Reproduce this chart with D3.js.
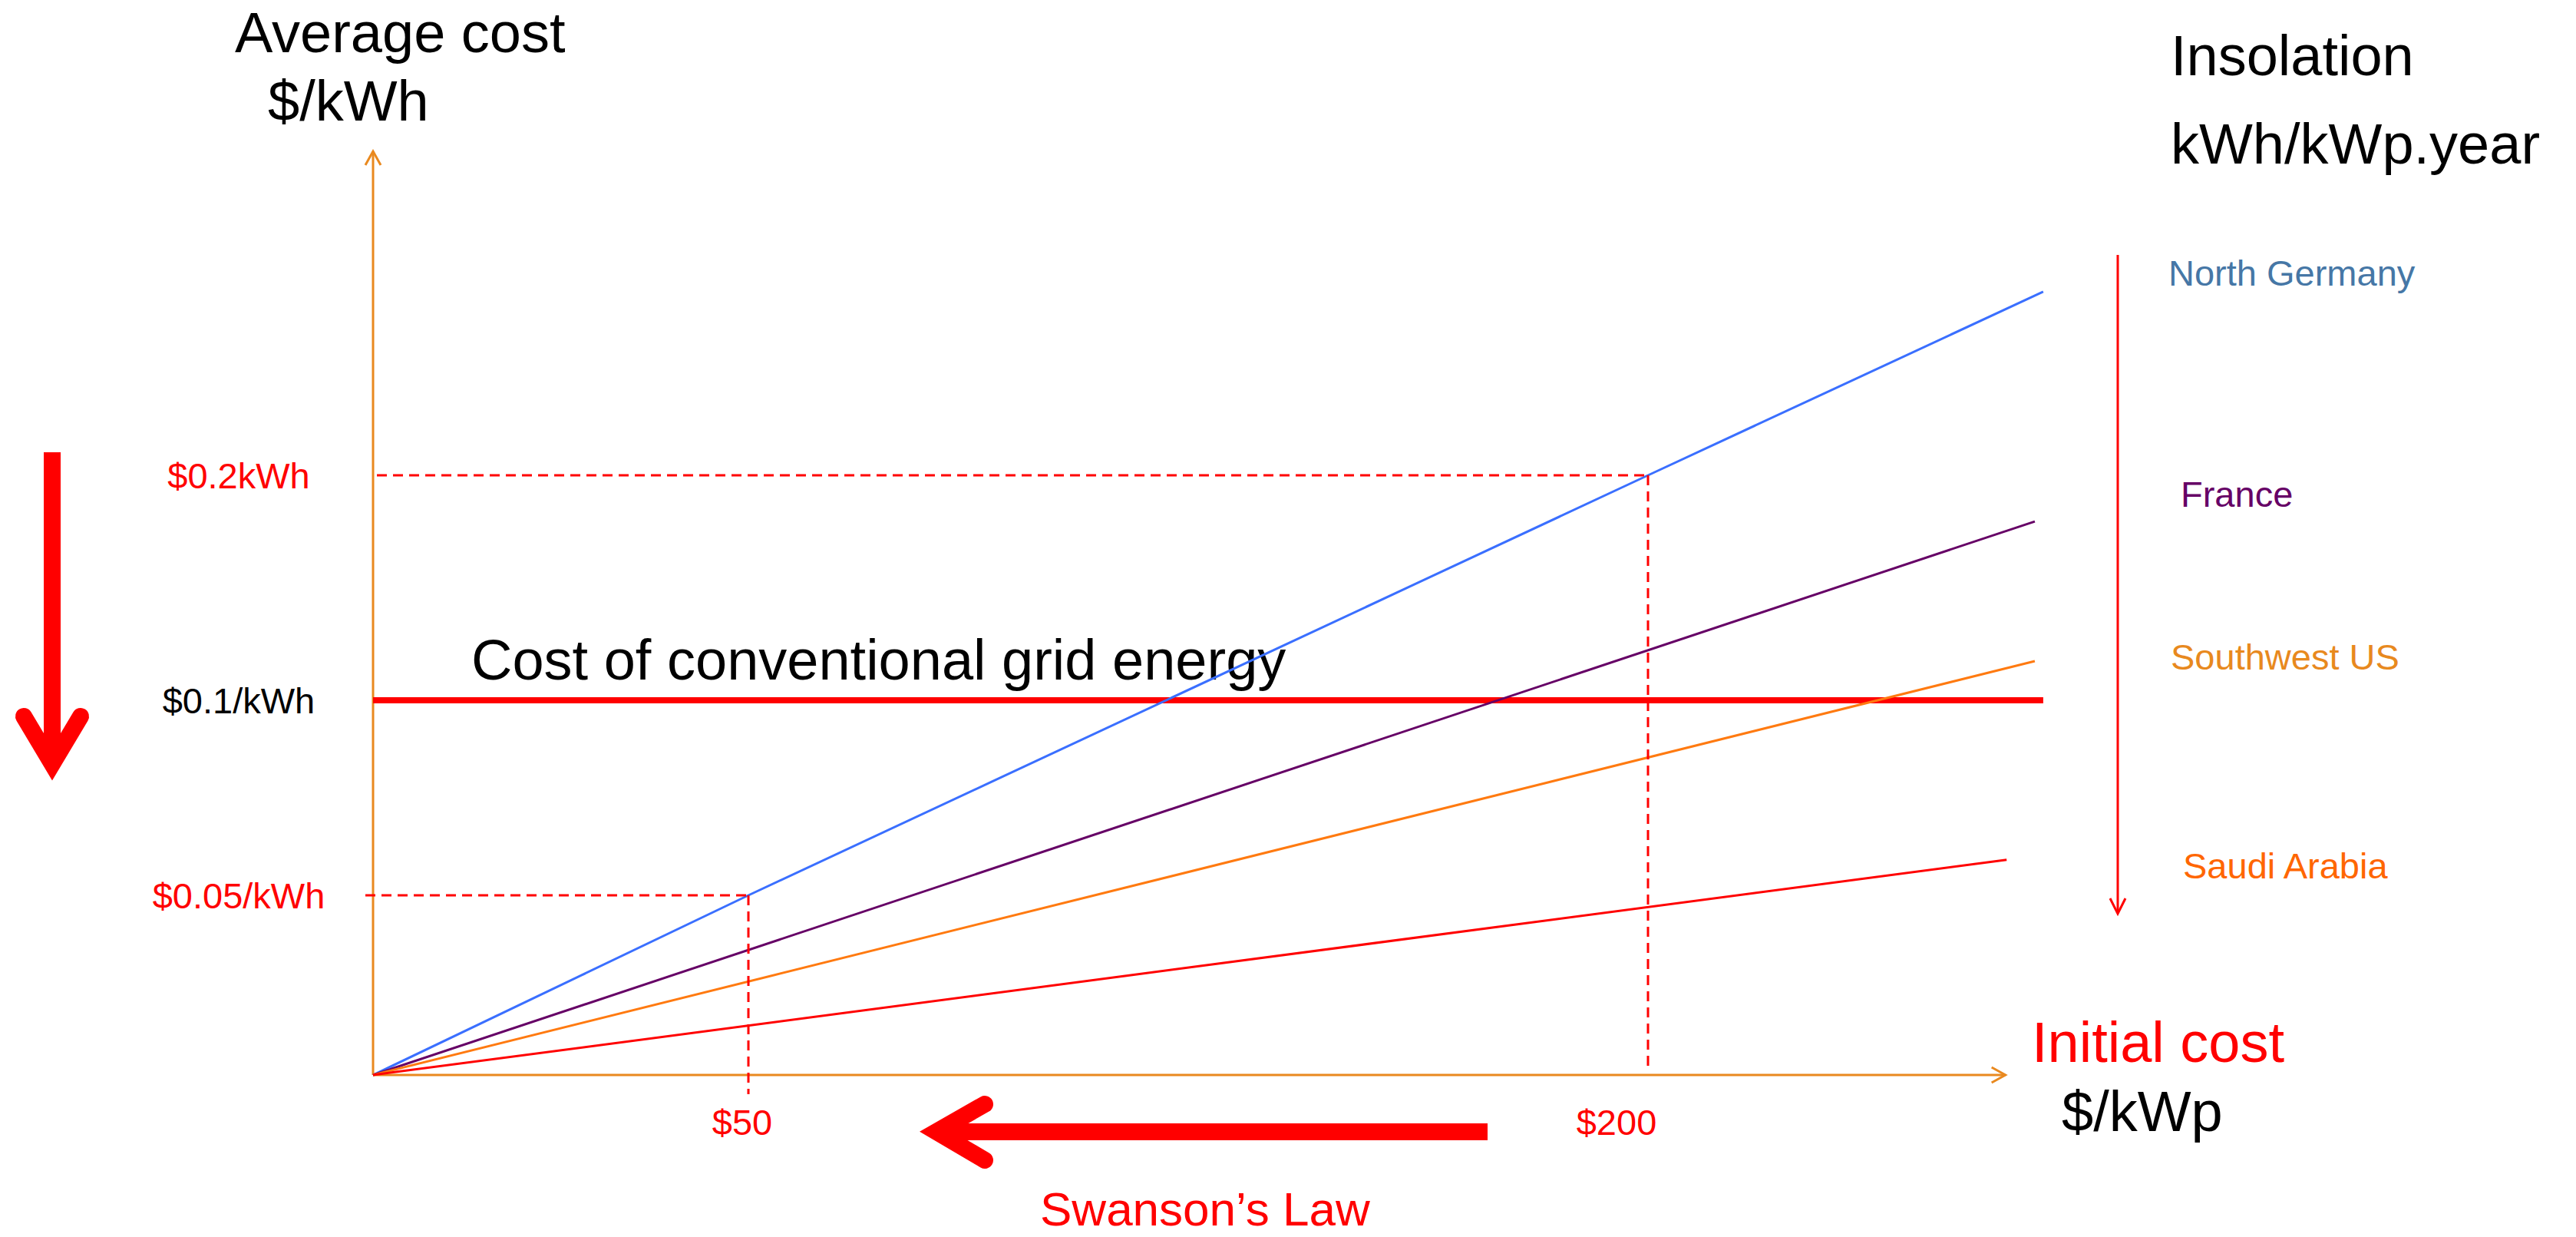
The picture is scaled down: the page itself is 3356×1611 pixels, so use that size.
<!DOCTYPE html>
<html>
<head>
<meta charset="utf-8">
<title>Swanson's Law and grid parity</title>
<script src="https://cdn.jsdelivr.net/npm/d3@7"></script>
<style>
  html, body { margin: 0; padding: 0; background: #ffffff; }
  svg { display: block; }
  text { font-family: "Liberation Sans", Arial, Helvetica, sans-serif; }
</style>
</head>
<body>
<script>
// Regions, ordered from lowest to highest insolation
const regions = ["North Germany", "France", "Southwest US", "Saudi Arabia"];
const lineColors = ["#3a6fff", "#660066", "#ff7a10", "#ff0000"];
const labelColors = ["#4677a6", "#660066", "#e8891e", "#ff6600"];
// End point of each region's cost line: initial cost ($/kWp) and average cost ($/kWh)
const endInitialCost = [265.9, 264.5, 264.5, 259.8];
const endAverageCost = [0.2816, 0.1795, 0.1174, 0.0591];

// North Germany reference points marked with guides
const guideInitialCost = [50, 200];
const guideAverageCost = [0.05, 0.2];

// Axis ticks
const xTickValues = [50, 200];
const xTickLabels = ["$50", "$200"];
const yTickValues = [0.05, 0.1, 0.2];
const yTickLabels = ["$0.05/kWh", "$0.1/kWh", "$0.2kWh"];
const yTickColors = ["#ff0000", "#000000", "#ff0000"];

// Cost of conventional grid energy
const gridCost = 0.1;
const gridEndInitialCost = 265.9;

// Axis extents
const xAxisMax = 259.6;
const yAxisMax = 0.344;

const W = 3356, H = 1611;
const FONT = 74, SMALL = 47;

const svg = d3.select("body").append("svg")
  .attr("width", W).attr("height", H)
  .attr("viewBox", `0 0 ${W} ${H}`);
svg.append("rect").attr("width", W).attr("height", H).attr("fill", "#fff");

// Schematic (piecewise) scales
const x = d3.scaleLinear().domain([0, 50, 200]).range([486, 975, 2147]);
const y = d3.scaleLinear().domain([0, 0.05, 0.1, 0.2]).range([1400, 1166, 912, 619]);

const axisColor = "#e9891f";

// Open chevron arrow head; dir = "up" | "right" | "down"
function chevron(g, tx, ty, dir, color, len, half, sw) {
  let d;
  if (dir === "up") d = `M${tx - half},${ty + len}L${tx},${ty}L${tx + half},${ty + len}`;
  else if (dir === "down") d = `M${tx - half},${ty - len}L${tx},${ty}L${tx + half},${ty - len}`;
  else d = `M${tx - len},${ty - half}L${tx},${ty}L${tx - len},${ty + half}`;
  g.append("path").attr("d", d).attr("fill", "none")
    .attr("stroke", color).attr("stroke-width", sw)
    .attr("stroke-linejoin", "miter").attr("stroke-linecap", "butt");
}

// Axis titles
svg.append("text").attr("x", 306).attr("y", 68).attr("font-size", FONT).attr("fill", "#000").text("Average cost");
svg.append("text").attr("x", 349).attr("y", 157).attr("font-size", FONT).attr("fill", "#000").text("$/kWh");
svg.append("text").attr("x", 2647).attr("y", 1383).attr("font-size", FONT).attr("fill", "#ff0000").text("Initial cost");
svg.append("text").attr("x", 2686).attr("y", 1473).attr("font-size", FONT).attr("fill", "#000").text("$/kWp");

// Legend title
svg.append("text").attr("x", 2828).attr("y", 98).attr("font-size", FONT).attr("fill", "#000").text("Insolation");
svg.append("text").attr("x", 2828).attr("y", 213).attr("font-size", FONT).attr("fill", "#000").text("kWh/kWp.year");

// Axes
const axes = svg.append("g");
axes.append("line")
  .attr("x1", x(0)).attr("y1", y(0)).attr("x2", x(0)).attr("y2", y(yAxisMax))
  .attr("stroke", axisColor).attr("stroke-width", 3);
chevron(axes, x(0), y(yAxisMax), "up", axisColor, 18, 10, 3);
axes.append("line")
  .attr("x1", x(0)).attr("y1", y(0)).attr("x2", x(xAxisMax)).attr("y2", y(0))
  .attr("stroke", axisColor).attr("stroke-width", 3);
chevron(axes, x(xAxisMax), y(0), "right", axisColor, 18, 10, 3);

// Tick labels
svg.append("g").selectAll("text").data(yTickValues).join("text")
  .attr("x", 311).attr("y", d => y(d) + 17)
  .attr("text-anchor", "middle").attr("font-size", SMALL)
  .attr("fill", (d, i) => yTickColors[i])
  .text((d, i) => yTickLabels[i]);
const xTickShift = [-8, -41];
svg.append("g").selectAll("text").data(xTickValues).join("text")
  .attr("x", (d, i) => x(d) + xTickShift[i]).attr("y", 1478)
  .attr("text-anchor", "middle").attr("font-size", SMALL)
  .attr("fill", "#ff0000")
  .text((d, i) => xTickLabels[i]);

// Grid energy label and level
svg.append("text").attr("x", 614).attr("y", 885).attr("font-size", FONT).attr("fill", "#000")
  .text("Cost of conventional grid energy");
svg.append("line")
  .attr("x1", x(0)).attr("x2", x(gridEndInitialCost))
  .attr("y1", y(gridCost)).attr("y2", y(gridCost))
  .attr("stroke", "#ff0000").attr("stroke-width", 8);

// Regional cost lines
const line = d3.line().x(d => x(d[0])).y(d => y(d[1]));
const series = regions.map((name, i) => {
  const pts = [[0, 0]];
  if (i === 0) guideInitialCost.forEach((c, k) => pts.push([c, guideAverageCost[k]]));
  pts.push([endInitialCost[i], endAverageCost[i]]);
  return { name, pts, color: lineColors[i] };
});
svg.append("g").selectAll("path").data(series).join("path")
  .attr("d", d => line(d.pts))
  .attr("fill", "none").attr("stroke", d => d.color)
  .attr("stroke-width", 3).attr("stroke-linejoin", "round");

// Dashed guides to the North Germany points
const guides = svg.append("g").attr("stroke", "#ff0000").attr("stroke-width", 3)
  .attr("stroke-dasharray", "13,8").attr("fill", "none");
const guideLeft = [476, 491];
const guideBottom = [1425, 1393];
guideInitialCost.forEach((c, k) => {
  const gx = x(c), gy = y(guideAverageCost[k]);
  guides.append("path").attr("d", `M${guideLeft[k]},${gy}H${gx}`);
  guides.append("path").attr("d", `M${gx},${gy}V${guideBottom[k]}`);
});

// Region labels
const labelX = [2825, 2841, 2828, 2844];
const labelY = [372, 660, 872, 1144];
svg.append("g").selectAll("text").data(regions).join("text")
  .attr("x", (d, i) => labelX[i]).attr("y", (d, i) => labelY[i])
  .attr("font-size", SMALL).attr("fill", (d, i) => labelColors[i])
  .text(d => d);

// Direction of increasing insolation
const ins = svg.append("g");
ins.append("line").attr("x1", 2759).attr("x2", 2759).attr("y1", 332).attr("y2", 1189)
  .attr("stroke", "#ff0000").attr("stroke-width", 3);
chevron(ins, 2759, 1190, "down", "#ff0000", 20, 10, 3);

// Falling average cost arrow
const down = svg.append("g").attr("fill", "none").attr("stroke", "#ff0000");
down.append("line").attr("x1", 68).attr("x2", 68).attr("y1", 589).attr("y2", 995)
  .attr("stroke-width", 22);
down.append("path").attr("d", "M31,933L68,995L105,933")
  .attr("stroke-width", 22).attr("stroke-linecap", "round").attr("stroke-linejoin", "miter")
  .attr("stroke-miterlimit", 10);

// Swanson's Law: falling initial cost
const left = svg.append("g").attr("fill", "none").attr("stroke", "#ff0000");
left.append("line").attr("x1", 1220).attr("x2", 1938).attr("y1", 1474).attr("y2", 1474)
  .attr("stroke-width", 22);
left.append("path").attr("d", "M1283,1438L1220,1474L1283,1511")
  .attr("stroke-width", 22).attr("stroke-linecap", "round").attr("stroke-linejoin", "miter")
  .attr("stroke-miterlimit", 10);
svg.append("text").attr("x", 1355).attr("y", 1596).attr("font-size", 62).attr("fill", "#ff0000")
  .text("Swanson\u2019s Law");
</script>
</body>
</html>
